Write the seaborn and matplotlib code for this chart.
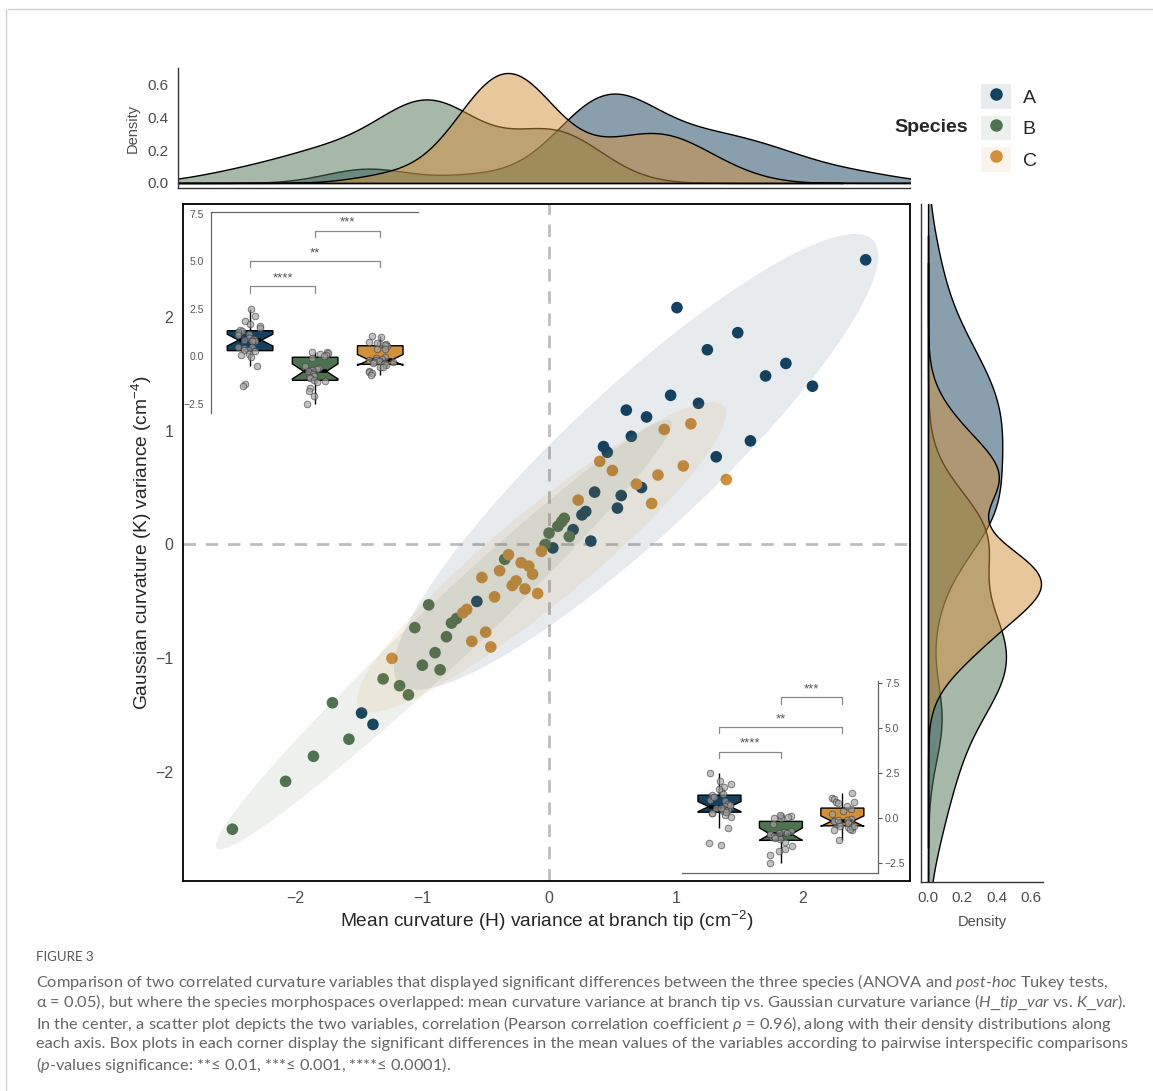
import numpy as np
import pandas as pd
import matplotlib
matplotlib.use("Agg")
import matplotlib.pyplot as plt
import seaborn as sns
from matplotlib.lines import Line2D
from matplotlib.patches import Rectangle
from matplotlib.colors import to_rgb

# ---------------- data ----------------
species = ["A", "B", "C"]
colors = {"A": "#14415f", "B": "#4f7350", "C": "#d2903c"}

a_x = [2.50, 1.01, 1.49, 1.25, 1.87, 1.71, 2.08, 0.96, 1.18, 0.61, 0.77, 0.65, 1.59, 0.43,
       0.46, 1.32, 0.73, 0.36, 0.57, 0.54, 0.29, 0.26, 0.19, 0.33, 0.03, -0.57, -1.48, -1.39]
a_y = [2.50, 2.08, 1.86, 1.71, 1.59, 1.48, 1.39, 1.31, 1.24, 1.18, 1.12, 0.95, 0.91, 0.86,
       0.81, 0.77, 0.50, 0.46, 0.43, 0.32, 0.29, 0.26, 0.13, 0.03, -0.03, -0.50, -1.48, -1.58]

b_x = [0.12, 0.10, 0.07, 0.00, 0.16, -0.03, -0.35, -0.95, -0.73, -0.77, -1.06, -0.81,
       -0.90, -1.00, -0.86, -1.31, -1.18, -1.11, -1.71, -1.58, -1.86, -2.08, -2.50]
b_y = [0.23, 0.20, 0.16, 0.10, 0.07, 0.00, -0.13, -0.53, -0.65, -0.69, -0.73, -0.81,
       -0.95, -1.06, -1.10, -1.18, -1.24, -1.32, -1.39, -1.71, -1.86, -2.08, -2.50]

c_x = [1.12, 0.91, 0.40, 0.50, 1.06, 0.86, 0.69, 1.40, 0.81, 0.23, -0.06, -0.32, -0.22, -0.16,
       -0.13, -0.39, -0.53, -0.26, -0.29, -0.19, -0.09, -0.43, -0.65, -0.68, -0.50, -0.61, -0.46, -1.24]
c_y = [1.06, 1.01, 0.73, 0.65, 0.69, 0.61, 0.53, 0.57, 0.36, 0.39, -0.06, -0.09, -0.16, -0.19,
       -0.26, -0.23, -0.29, -0.32, -0.36, -0.39, -0.43, -0.46, -0.57, -0.60, -0.77, -0.85, -0.90, -1.00]

x_ticks = [-2, -1, 0, 1, 2]
y_ticks = [-2, -1, 0, 1, 2]
inset_ticks = [-2.5, 0.0, 2.5, 5.0, 7.5]
density_ticks = [0.0, 0.2, 0.4, 0.6]
# significance brackets: (group1, group2, label, bracket level, tip level)
brackets_y = [(0, 1, "****", 3.68, 3.33), (0, 2, "**", 5.0, 4.68), (1, 2, "***", 6.6, 6.25)]
brackets_x = [(0, 1, "****", 3.68, 3.33), (0, 2, "**", 5.04, 4.70), (1, 2, "***", 6.7, 6.35)]

df = pd.DataFrame({
    "species": ["A"] * len(a_x) + ["B"] * len(b_x) + ["C"] * len(c_x),
    "x": a_x + b_x + c_x,
    "y": a_y + b_y + c_y,
})

# ---------------- style ----------------
sns.set_style("white")
plt.rcParams["font.family"] = ["Liberation Sans", "DejaVu Sans"]
plt.rcParams["mathtext.fontset"] = "custom"
plt.rcParams["mathtext.rm"] = "Liberation Sans"
plt.rcParams["mathtext.it"] = "Lato:italic"
plt.rcParams["mathtext.bf"] = "Liberation Sans:bold"

WPX, HPX = 1153, 1091
fig = plt.figure(figsize=(WPX / 100, HPX / 100), dpi=100)


def box(l, t, r, b):
    return [l / WPX, 1 - b / HPX, (r - l) / WPX, (b - t) / HPX]


TICKC = "#4d4d4d"

# ---------------- main scatter ----------------
ax = fig.add_axes(box(183, 204, 910, 881))
ax.set_xlim(-2.89, 2.85)
ax.set_ylim(-2.955, 2.99)
ax.axvline(0, color="#bdbdbd", lw=2, ls=(0, (4.5, 3.5)), zorder=1)
ax.axhline(0, color="#bdbdbd", lw=2, ls=(0, (4.5, 3.5)), zorder=1)
sns.scatterplot(data=df, x="x", y="y", hue="species", palette=colors, hue_order=species,
                s=70, linewidth=0, legend=False, ax=ax, zorder=2)


def cov_trob(X, nu=5, maxit=25, tol=0.01):
    n, p = X.shape
    loc = X.mean(0)
    w = np.ones(n)
    Xc = X - loc
    for _ in range(maxit):
        w0 = w
        Xc = X - loc
        S = (w[:, None] * Xc).T @ Xc / w.sum()
        Q = np.einsum("ij,jk,ik->i", Xc, np.linalg.inv(S), Xc)
        w = (nu + p) / (nu + Q)
        loc = (w[:, None] * X).sum(0) / w.sum()
        if np.all(np.abs(w - w0) < tol):
            break
    cov = (w[:, None] * Xc).T @ Xc / n
    return loc, cov


theta = np.linspace(0, 2 * np.pi, 121)
circle = np.column_stack([np.cos(theta), np.sin(theta)])
for sp in species:
    sub = df[df.species == sp][["x", "y"]].to_numpy()
    n = len(sub)
    d = n - 1
    fq = (d / 2) * (0.05 ** (-2 / d) - 1)
    radius = np.sqrt(2 * fq)
    loc, cov = cov_trob(sub)
    L = np.linalg.cholesky(cov)
    pts = loc + radius * circle @ L.T
    ax.fill(pts[:, 0], pts[:, 1], color=colors[sp], alpha=0.1, lw=0, zorder=3)

ax.set_xticks(x_ticks)
ax.set_yticks(y_ticks)
ax.tick_params(direction="out", length=4, width=1, color="#333333", labelcolor=TICKC,
               labelsize=11.5, pad=3)
for s in ax.spines.values():
    s.set_color("black")
    s.set_linewidth(1.3)
ax.set_xlabel("Mean curvature (H) variance at branch tip (cm$^{-2}$)", fontsize=13.8, labelpad=2)
ax.set_ylabel("Gaussian curvature (K) variance (cm$^{-4}$)", fontsize=13.8, labelpad=1)

# ---------------- top marginal ----------------
axt = fig.add_axes(box(178, 68, 910, 188))
for sp in species:
    v = np.array(df[df.species == sp]["x"])
    sd = v.std(ddof=1)
    iqr = np.subtract(*np.percentile(v, [75, 25]))
    bw = 0.9 * min(sd, iqr / 1.34) * len(v) ** -0.2
    sns.kdeplot(x=v, ax=axt, fill=True, color=colors[sp], alpha=0.5, edgecolor="black",
                linewidth=1, bw_method=bw / sd, cut=6, gridsize=400)
axt.set_xlim(-2.93, 2.85)
axt.set_ylim(-0.031, 0.704)
axt.set_xticks([-2, 0, 2])
axt.set_xticklabels([])
axt.set_yticks(density_ticks)
axt.set_yticklabels([f"{t:.1f}" for t in density_ticks])
axt.set_xlabel("")
axt.set_ylabel("Density", fontsize=10.5, color=TICKC, labelpad=6)
for k in ["top", "right"]:
    axt.spines[k].set_visible(False)
for k in ["left", "bottom"]:
    axt.spines[k].set_color("#333333")
    axt.spines[k].set_linewidth(1)
axt.tick_params(direction="out", length=3, color="#333333", labelcolor=TICKC, labelsize=11)
axt.patch.set_alpha(0)

# ---------------- right marginal ----------------
axr = fig.add_axes(box(921, 204, 1043, 882))
for sp in species:
    v = np.array(df[df.species == sp]["y"])
    sd = v.std(ddof=1)
    iqr = np.subtract(*np.percentile(v, [75, 25]))
    bw = 0.9 * min(sd, iqr / 1.34) * len(v) ** -0.2
    sns.kdeplot(y=v, ax=axr, fill=True, color=colors[sp], alpha=0.5, edgecolor="black",
                linewidth=1, bw_method=bw / sd, cut=6, gridsize=400)
axr.set_ylim(-2.955, 2.99)
axr.set_xlim(-0.041, 0.669)
axr.set_yticks([-2, 0, 2])
axr.set_yticklabels([])
axr.set_xticks(density_ticks)
axr.set_xticklabels([f"{t:.1f}" for t in density_ticks])
axr.set_ylabel("")
axr.set_xlabel("Density", fontsize=10.5, color=TICKC, labelpad=7)
for k in ["top", "right"]:
    axr.spines[k].set_visible(False)
for k in ["left", "bottom"]:
    axr.spines[k].set_color("#333333")
    axr.spines[k].set_linewidth(1)
axr.tick_params(direction="out", length=3, color="#333333", labelcolor=TICKC, labelsize=11)
axr.patch.set_alpha(0)

# ---------------- insets ----------------
np.random.seed(3)


def inset(rect, var, ylim, xlim, side, brackets):
    ai = fig.add_axes(rect)
    ai.patch.set_alpha(0)
    sns.boxplot(data=df, x="species", y=var, hue="species", order=species, hue_order=species,
                palette=colors, notch=True, width=0.7, linecolor="black", linewidth=1,
                showfliers=False, showcaps=False, saturation=1, legend=False, ax=ai,
                medianprops=dict(color="black", linewidth=2.6), zorder=2)
    sns.stripplot(data=df, x="species", y=var, order=species, color="#a0a0a0", alpha=0.65,
                  size=4.8, jitter=0.2, edgecolor="#333333", linewidth=0.6, ax=ai, zorder=3)
    ai.set_xlim(*xlim)
    ai.set_ylim(*ylim)
    ai.set_xlabel("")
    ai.set_ylabel("")
    ai.set_xticks([])
    ai.set_yticks(inset_ticks)
    ai.set_yticklabels([f"{t:.1f}".replace("-", "\u2212") for t in inset_ticks])
    ai.tick_params(axis="y", direction="out", length=3, color="#555555", labelcolor="#555555",
                   labelsize=7.5, pad=2)
    for s in ai.spines.values():
        s.set_visible(False)
    if side == "left":
        ai.spines["left"].set_visible(True)
        ai.spines["top"].set_visible(True)
    else:
        ai.spines["right"].set_visible(True)
        ai.spines["bottom"].set_visible(True)
        ai.yaxis.tick_right()
    for s in ai.spines.values():
        s.set_color("#666666")
        s.set_linewidth(0.9)
    for g1, g2, lab, yb, yt in brackets:
        ai.plot([g1, g1, g2, g2], [yt, yb, yb, yt], color="#888888", lw=0.9)
        ai.text((g1 + g2) / 2, yb + 0.1, lab, ha="center", va="bottom", fontsize=9.5,
                color="#555555")
    return ai


inset(box(211, 212, 418, 413), "y", (-3.0, 7.58), (-0.6, 2.58), "left", brackets_y)
inset(box(682, 681, 878, 873), "x", (-3.06, 7.61), (-0.61, 2.58), "right", brackets_x)

# ---------------- legend ----------------
light = {}
for sp in species:
    r, g, b = to_rgb(colors[sp])
    light[sp] = (1 - 0.1 * (1 - r), 1 - 0.1 * (1 - g), 1 - 0.1 * (1 - b))
handles = [(Rectangle((0, 0), 1, 1, facecolor=light[sp], edgecolor="none"),
            Line2D([], [], marker="o", color=colors[sp], linestyle="", markersize=8))
           for sp in species]
fig.legend(handles, species, loc="center left", bbox_to_anchor=(981 / WPX, 1 - 128 / HPX),
           frameon=False, fontsize=14, handlelength=1.55, handleheight=1.6,
           labelspacing=0.32, handletextpad=0.6, borderpad=0, borderaxespad=0)
fig.text(968 / WPX, 1 - 128 / HPX, "Species", ha="right", va="center", fontsize=14,
         fontweight="bold")

# ---------------- caption ----------------
capfam = ["Lato", "DejaVu Sans"]
fig.text(36 / WPX, 1 - 957 / HPX, "FIGURE 3", fontsize=9.5, color="#555555", family=capfam,
         va="center")
cap_lines = [
    r"Comparison of two correlated curvature variables that displayed significant differences between the three species (ANOVA and $\mathit{post}$-$\mathit{hoc}$ Tukey tests,",
    r"α = 0.05), but where the species morphospaces overlapped: mean curvature variance at branch tip vs. Gaussian curvature variance ($\mathit{H\_tip\_var}$ vs. $\mathit{K\_var}$).",
    r"In the center, a scatter plot depicts the two variables, correlation (Pearson correlation coefficient $\rho$ = 0.96), along with their density distributions along",
    r"each axis. Box plots in each corner display the significant differences in the mean values of the variables according to pairwise interspecific comparisons",
    r"($\mathit{p}$-values significance: **≤ 0.01, ***≤ 0.001, ****≤ 0.0001).",
]
for i, line in enumerate(cap_lines):
    fig.text(36 / WPX, 1 - (982 + 20.8 * i) / HPX, line, fontsize=11.8, color="#666666",
             family=capfam, va="center")

# thin frame lines
fig.add_artist(Line2D([8 / WPX, 1], [1 - 9 / HPX, 1 - 9 / HPX], color="#d0d0d0", lw=1))
fig.add_artist(Line2D([6 / WPX, 6 / WPX], [0, 1 - 9 / HPX], color="#d0d0d0", lw=1))

fig.savefig("out.png", dpi=100)
